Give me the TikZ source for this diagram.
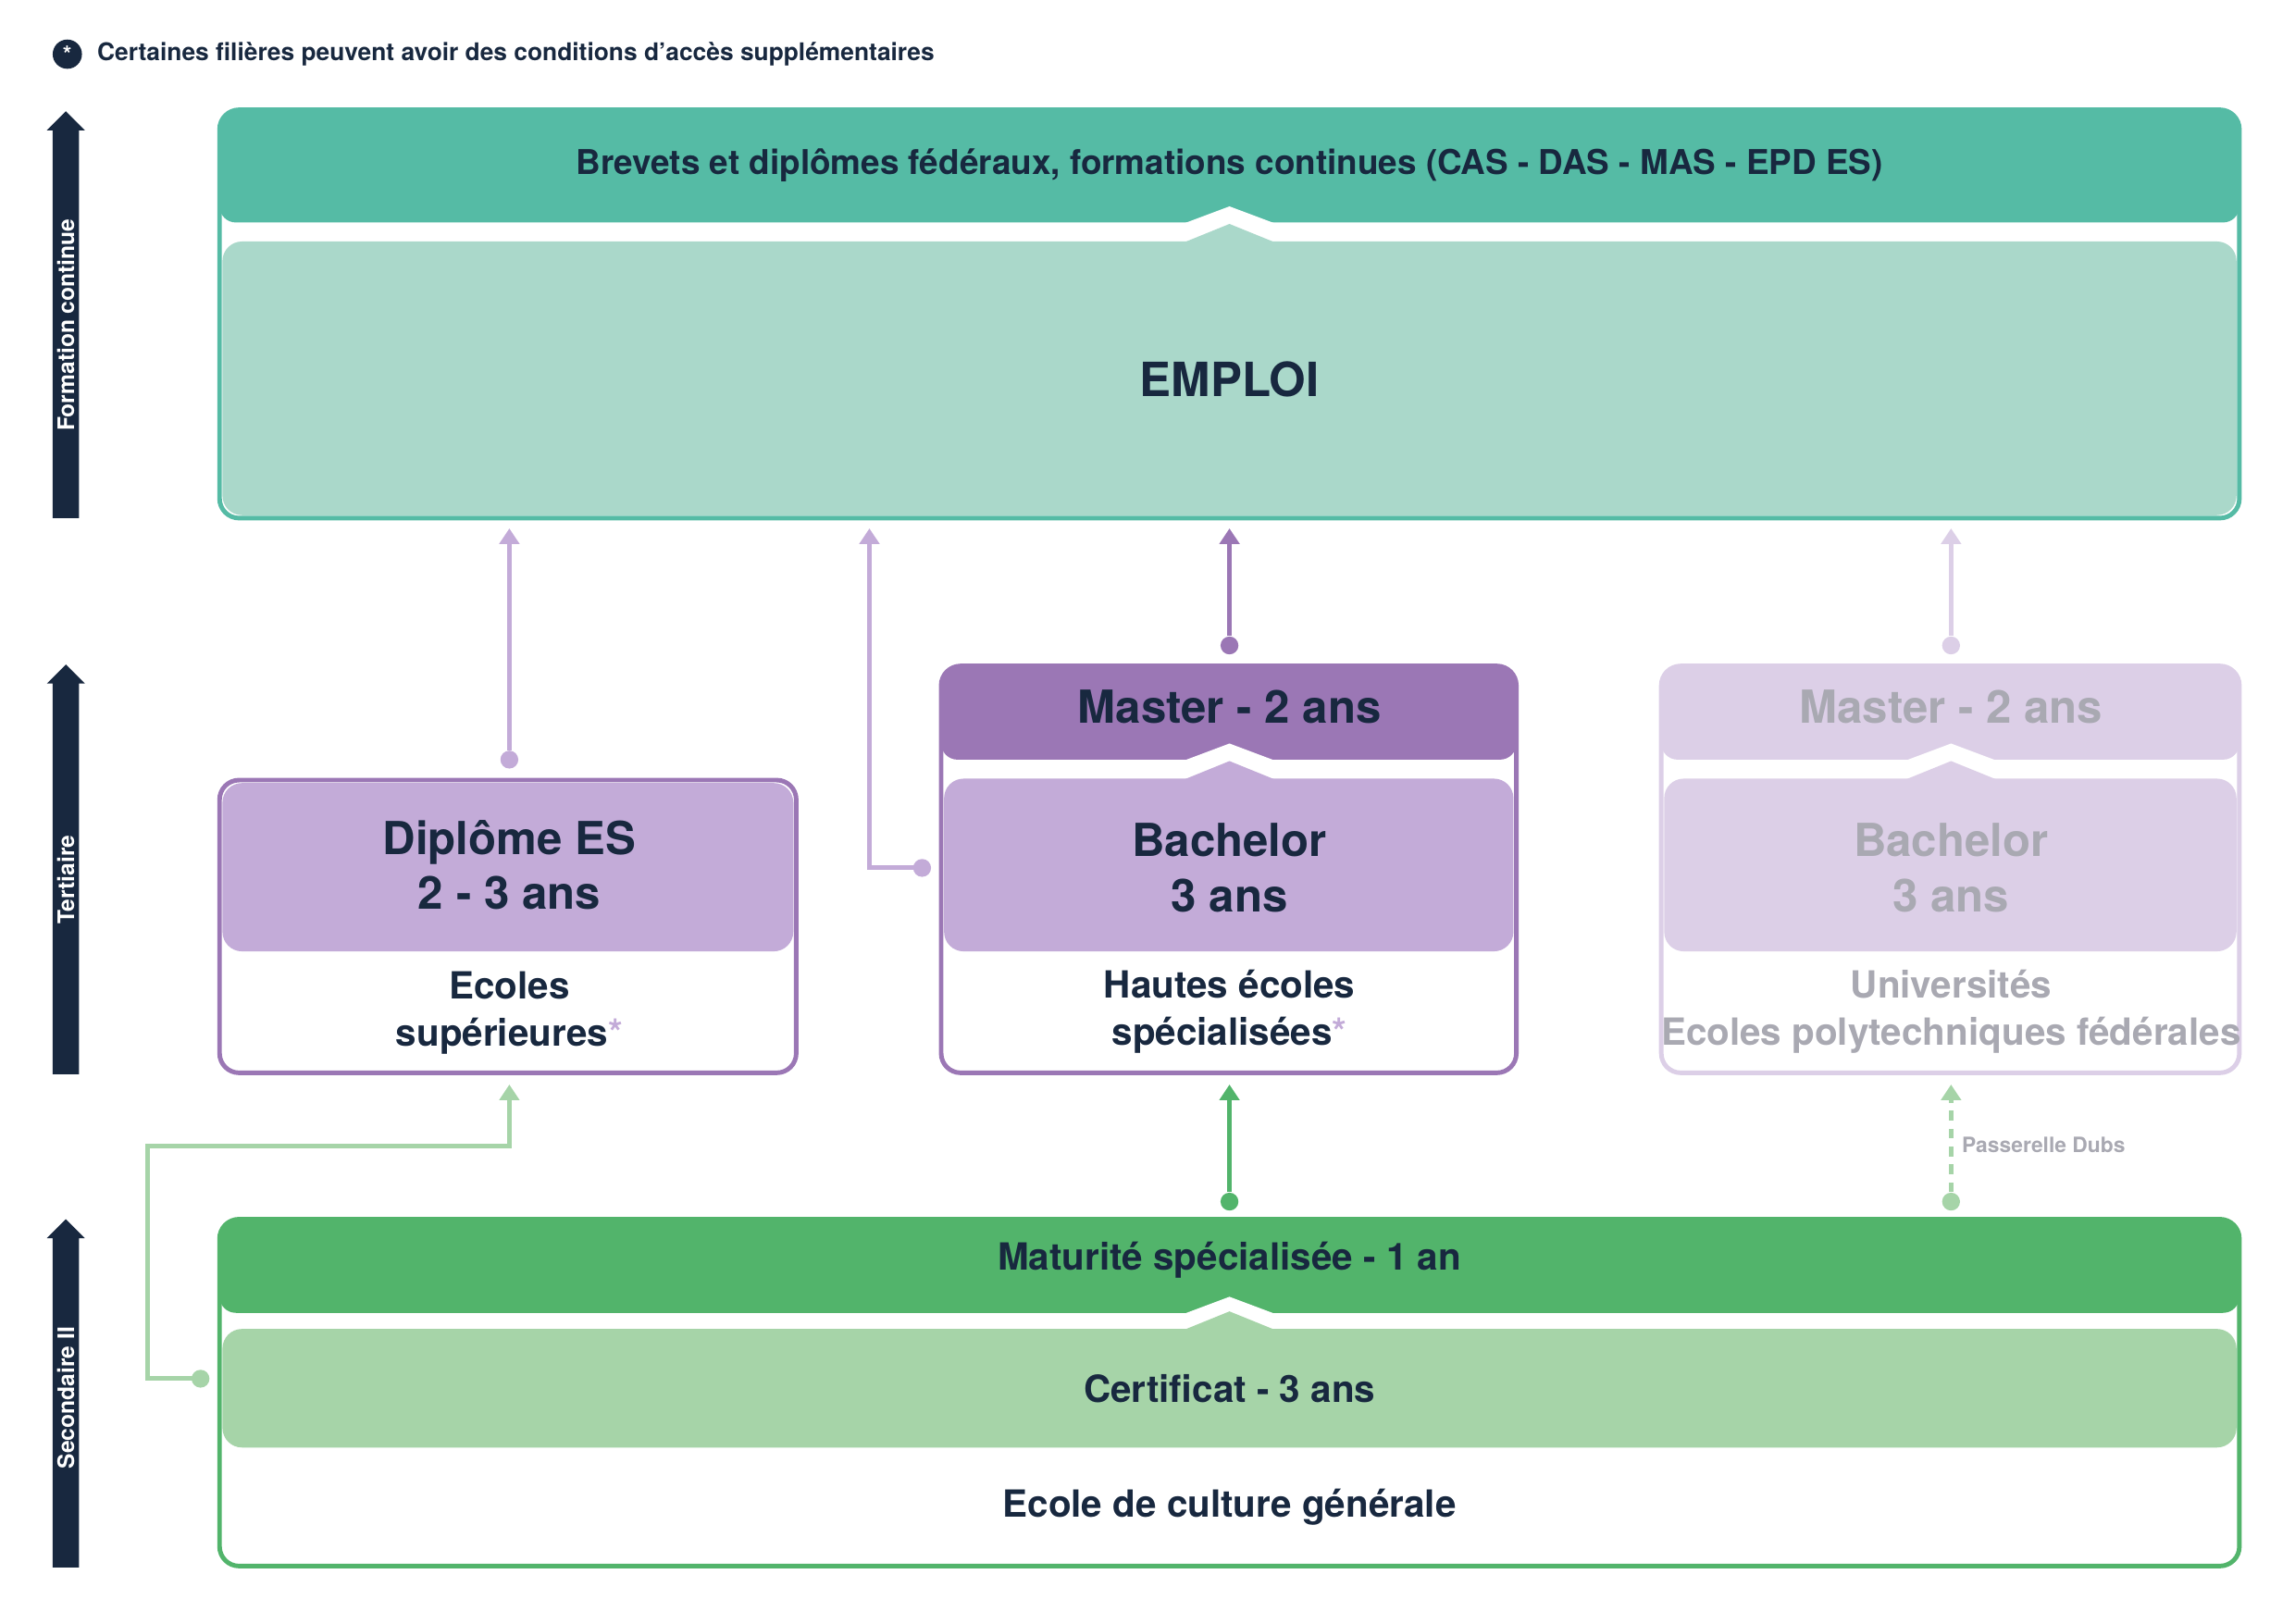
\documentclass[tikz,border=0pt]{standalone}
\usepackage{fontspec}
\setmainfont{TeX Gyre Heros}
\usetikzlibrary{arrows.meta}
\definecolor{navy}{HTML}{18283F}
\definecolor{teal}{HTML}{55BBA5}
\definecolor{tealL}{HTML}{AAD8CA}
\definecolor{purD}{HTML}{9B77B5}
\definecolor{purL}{HTML}{C3ABD8}
\definecolor{purF}{HTML}{DCCFE7}
\definecolor{grn}{HTML}{52B46B}
\definecolor{grnL}{HTML}{A6D4A8}
\definecolor{greyT}{HTML}{A9A9B2}
\begin{document}
\begin{tikzpicture}[x=0.015816cm,y=-0.015816cm,
  frame/.style={line width=1.4pt,rounded corners=6pt},
  band/.style={rounded corners=5pt},
  txt/.style={text=navy,font=\bfseries,align=center,inner sep=0pt},
  conn/.style={line width=1.4pt,-{Triangle[width=6pt,length=4.8pt]}},
  dot/.style={circle,inner sep=0pt,minimum size=5.5pt,fill=#1},
  side/.style={fill=navy},
  sidelab/.style={text=white,font=\bfseries\fontsize{7}{8}\selectfont,rotate=90,inner sep=0pt}]
\useasboundingbox (0,0) rectangle (1568,1109);
% legend
\node[circle,fill=navy,minimum size=9pt,inner sep=0pt,text=white,font=\bfseries\fontsize{7}{7}\selectfont] (leg) at (46,37) {*};
\node[anchor=west,text=navy,font=\bfseries\fontsize{7.5}{9}\selectfont,inner sep=0pt] (legt) at (66,37) {Certaines filières peuvent avoir des conditions d’accès supplémentaires};
% side arrows
\fill[side] (36,354) -- (36,89) -- (32,89) -- (45,76) -- (58,89) -- (54,89) -- (54,354) -- cycle;
\fill[side] (36,734) -- (36,467) -- (32,467) -- (45,454) -- (58,467) -- (54,467) -- (54,734) -- cycle;
\fill[side] (36,1071) -- (36,846) -- (32,846) -- (45,833) -- (58,846) -- (54,846) -- (54,1071) -- cycle;
\node[sidelab] (s1) at (45,222) {Formation continue};
\node[sidelab] (s2) at (45,601) {Tertiaire};
\node[sidelab] (s3) at (45,955) {Secondaire II};
% top box
\fill[white] (150,75) rectangle (1530,354);
\fill[teal,band] (150,75) rectangle (1530,152);
\fill[white] (808,153) -- (840,141) -- (872,153) -- cycle;
\fill[tealL,rounded corners=6pt] (152,165) rectangle (1528,352);
\fill[tealL] (808,166) -- (840,153) -- (872,166) -- cycle;
\draw[teal,frame] (150,75) rectangle (1530,354);
\node[txt,font=\bfseries\fontsize{10.5}{12}\selectfont] (brev) at (840,113) {Brevets et diplômes fédéraux, formations continues (CAS - DAS - MAS - EPD ES)};
\node[txt,font=\bfseries\fontsize{14.5}{16}\selectfont] (emploi) at (840,259) {EMPLOI};
% Diplome ES
\fill[white] (150,533) rectangle (544,733);
\fill[purL,rounded corners=6pt] (152,535) rectangle (542,650);
\draw[purD,frame] (150,533) rectangle (544,733);
\node[txt,font=\bfseries\fontsize{14}{17}\selectfont] (dipl) at (348,591) {Diplôme ES\\2 - 3 ans};
\node[txt,font=\bfseries\fontsize{11.5}{14.5}\selectfont] (ecs) at (348,692) {Ecoles\\supérieures\textcolor{purL}{*}};
% HES
\fill[white] (643,455) rectangle (1036,733);
\fill[purD,band] (643,455) rectangle (1036,519);
\fill[white] (808,520) -- (840,508) -- (872,520) -- cycle;
\fill[purL,rounded corners=6pt] (645,532) rectangle (1034,650);
\fill[purL] (808,533) -- (840,520) -- (872,533) -- cycle;
\draw[purD,frame] (643,455) rectangle (1036,733);
\node[txt,font=\bfseries\fontsize{14}{17}\selectfont] (mas1) at (840,483) {Master - 2 ans};
\node[txt,font=\bfseries\fontsize{14}{17}\selectfont] (bac1) at (840,593) {Bachelor\\3 ans};
\node[txt,font=\bfseries\fontsize{11.5}{14.5}\selectfont] (hes) at (840,691) {Hautes écoles\\spécialisées\textcolor{purL}{*}};
% Uni
\fill[white] (1135,455) rectangle (1530,733);
\fill[purF,band] (1135,455) rectangle (1530,519);
\fill[white] (1301,520) -- (1333,508) -- (1365,520) -- cycle;
\fill[purF,rounded corners=6pt] (1137,532) rectangle (1528,650);
\fill[purF] (1301,533) -- (1333,520) -- (1365,533) -- cycle;
\draw[purF,frame] (1135,455) rectangle (1530,733);
\node[txt,text=greyT,font=\bfseries\fontsize{14}{17}\selectfont] (mas2) at (1333,483) {Master - 2 ans};
\node[txt,text=greyT,font=\bfseries\fontsize{14}{17}\selectfont] (bac2) at (1333,593) {Bachelor\\3 ans};
\node[txt,text=greyT,font=\bfseries\fontsize{11.5}{14.5}\selectfont] (uni) at (1333,691) {Universités\\Ecoles polytechniques fédérales};
% bottom
\fill[white] (150,833) rectangle (1530,1070);
\fill[grn,band] (150,833) rectangle (1530,897);
\fill[white] (808,898) -- (840,886) -- (872,898) -- cycle;
\fill[grnL,rounded corners=6pt] (152,908) rectangle (1528,989);
\fill[grnL] (808,909) -- (840,896) -- (872,909) -- cycle;
\draw[grn,frame] (150,833) rectangle (1530,1070);
\node[txt,font=\bfseries\fontsize{11.5}{14}\selectfont] (mat) at (840,861) {Maturité spécialisée - 1 an};
\node[txt,font=\bfseries\fontsize{11.5}{14}\selectfont] (cert) at (840,949) {Certificat - 3 ans};
\node[txt,font=\bfseries\fontsize{11.5}{14}\selectfont] (ecg) at (840,1030) {Ecole de culture générale};
% connectors
\coordinate (t1) at (348,361); \coordinate (t2) at (594,361); \coordinate (t3) at (840,361); \coordinate (t4) at (1333,361);
\coordinate (d1) at (348,741); \coordinate (d2) at (840,741); \coordinate (d3) at (1333,741);
\node[dot=purL] (p1) at (348,519) {};
\node[dot=purL] (p2) at (630,593) {};
\node[dot=purD] (p3) at (840,441) {};
\node[dot=purF] (p4) at (1333,441) {};
\node[dot=grnL] (g1) at (137,942) {};
\node[dot=grn] (g2) at (840,821) {};
\node[dot=grnL] (g3) at (1333,821) {};
\draw[conn,purL] (p1) -- (t1);
\draw[conn,purL] (p2.center) -- (594,593) -- (t2);
\draw[conn,purD] (p3) -- (t3);
\draw[conn,purF] (p4) -- (t4);
\draw[conn,grnL] (g1.center) -- (101,942) -- (101,783) -- (348,783) -- (d1);
\draw[conn,grn] (g2) -- (d2);
\draw[conn,grnL,dash pattern=on 3pt off 2.5pt] (g3) -- (d3);
\node[anchor=west,text=greyT,font=\bfseries\fontsize{6.5}{8}\selectfont,inner sep=0pt] (pd) at (1340,782) {Passerelle Dubs};
\end{tikzpicture}
\end{document}
